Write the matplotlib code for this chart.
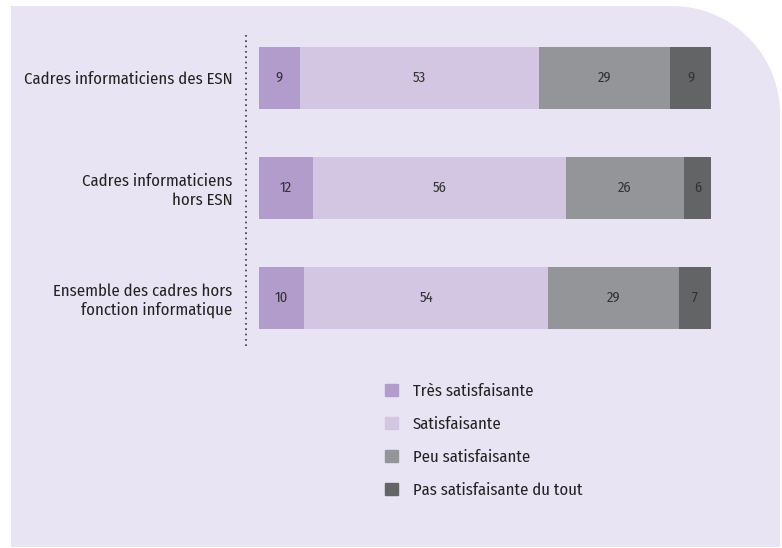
import matplotlib.pyplot as plt
import numpy as np
from matplotlib.path import Path
from matplotlib.patches import PathPatch

plt.rcParams['font.family'] = ['Fira Sans Condensed', 'DejaVu Sans']

# data
categories = ["Cadres informaticiens des ESN",
              "Cadres informaticiens\nhors ESN",
              "Ensemble des cadres hors\nfonction informatique"]
series = ["Très satisfaisante", "Satisfaisante", "Peu satisfaisante",
          "Pas satisfaisante du tout"]
tres = [9, 12, 10]
satis = [53, 56, 54]
peu = [29, 26, 29]
pas = [9, 6, 7]
colors = ['#b29ccb', '#d2c6e2', '#949598', '#636466']

W, H = 782, 548
fig = plt.figure(figsize=(W / 100, H / 100), dpi=100)

# background panel, rounded top-right corner (pixel coords)
bg = fig.add_axes([0, 0, 1, 1])
bg.set_xlim(0, W)
bg.set_ylim(H, 0)
bg.axis('off')
x0, y0, x1, y1, r = 11, 6, 780, 547, 108
t = np.linspace(-np.pi / 2, 0, 40)
arc = [(x1 - r + r * np.cos(a), y0 + r + r * np.sin(a)) for a in t]
verts = [(x0, y1), (x0, y0)] + arc + [(x1, y1), (x0, y1)]
codes = [Path.MOVETO] + [Path.LINETO] * (len(verts) - 2) + [Path.CLOSEPOLY]
bg.add_patch(PathPatch(Path(verts, codes), facecolor='#e8e4f3', edgecolor='none'))
bg.plot([246, 246], [35, 347], color='#333333', linestyle=(0, (1, 2.2)), linewidth=1.2)

# bars
ax = fig.add_axes([259 / W, 1 - 353 / H, 452 / W, 330 / H])
ax.set_facecolor('none')
y = np.arange(len(categories))
left = np.zeros(len(categories))
for vals, c in zip([tres, satis, peu, pas], colors):
    vals = np.array(vals)
    ax.barh(y, vals, left=left, height=0.564, color=c)
    for yi, l, v in zip(y, left, vals):
        ax.text(l + v / 2, yi, str(v), ha='center', va='center',
                fontsize=10.5, color='#333333')
    left = left + vals
ax.set_xlim(0, 100)
ax.set_ylim(2.5, -0.5)
ax.set_yticks(y)
ax.set_yticklabels(categories, fontsize=12, color='#222222', ha='right')
ax.tick_params(axis='y', length=0, pad=19)
ax.set_xticks([])
for s in ax.spines.values():
    s.set_visible(False)

# legend
handles = [plt.Rectangle((0, 0), 1, 1, color=c) for c in colors]
fig.legend(handles, series, loc='upper left',
           bbox_to_anchor=(370 / W, 1 - 368 / H), frameon=False,
           fontsize=12, handlelength=0.78, handleheight=0.78,
           handletextpad=0.9, labelspacing=1.02, labelcolor='#222222')

fig.savefig('out.png', dpi=100)
